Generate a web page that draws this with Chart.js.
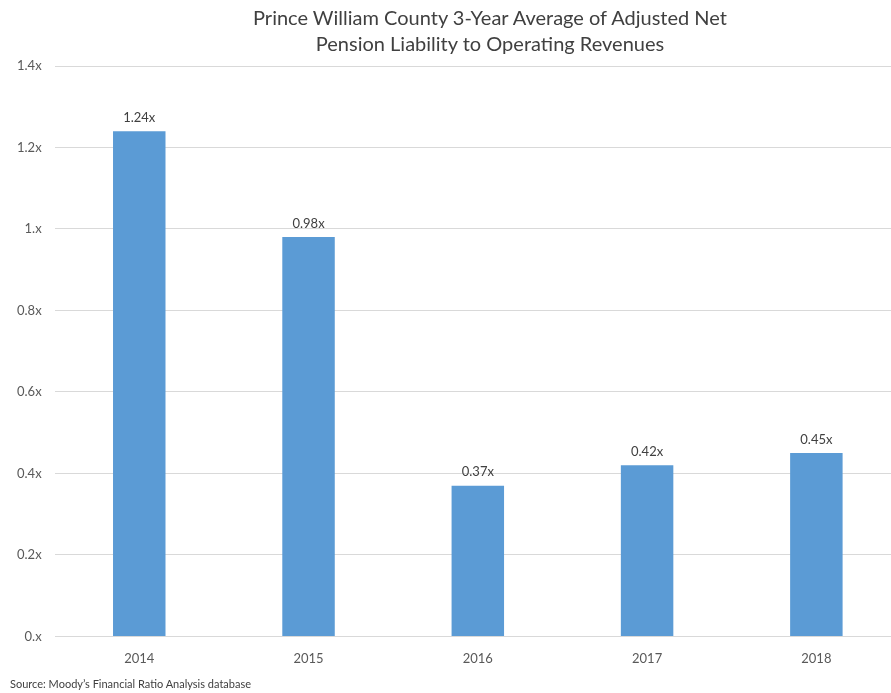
<!DOCTYPE html>
<html>
<head>
<meta charset="utf-8">
<script src="https://cdn.jsdelivr.net/npm/chart.js@4/dist/chart.umd.min.js"></script>
<style>
    html, body { margin: 0; padding: 0; background: #fff; overflow: hidden; }
    #wrap { position: relative; width: 891px; height: 693px; overflow: hidden; }
    #chart { position: absolute; left: 0; top: 0; }
    #title { position: absolute; left: 0; top: 4px; width: 980px; text-align: center;
             font: 20px/26px Lato, sans-serif; color: #404040; }
    #source { position: absolute; left: 10px; top: 677px; font: 11px Lato, sans-serif; color: #404040; }
</style>
</head>
<body>
<div id="wrap">
    <canvas id="chart" width="980" height="693"></canvas>
    <div id="title"></div>
    <div id="source">Source: Moody’s Financial Ratio Analysis database</div>
</div>
<script>
// Chart data
const years = ['2014', '2015', '2016', '2017', '2018'];
const ratios = [1.24, 0.98, 0.37, 0.42, 0.45];
const titleLines = ['Prince William County 3-Year Average of Adjusted Net', 'Pension Liability to Operating Revenues'];

document.getElementById('title').innerHTML = titleLines.join('<br>');

// Excel style "0.#x" format
function tickFormat(value) {
    let s = (Math.round(value * 10) / 10).toString();
    if (s.indexOf('.') < 0) s += '.';
    return s + 'x';
}

// Draw value labels above each bar
const barLabels = {
    id: 'barLabels',
    afterDatasetsDraw(chart) {
        const ctx = chart.ctx;
        const meta = chart.getDatasetMeta(0);
        ctx.save();
        ctx.font = '13px Lato, sans-serif';
        ctx.fillStyle = '#404040';
        ctx.textAlign = 'center';
        ctx.textBaseline = 'bottom';
        meta.data.forEach(function(bar, i) {
            ctx.fillText(ratios[i].toFixed(2) + 'x', bar.x, bar.y - 7);
        });
        ctx.restore();
    }
};

const ctx = document.getElementById('chart').getContext('2d');
new Chart(ctx, {
    type: 'bar',
    data: {
        labels: years,
        datasets: [{
            data: ratios,
            backgroundColor: '#5b9bd5',
            categoryPercentage: 1,
            barPercentage: 0.31
        }]
    },
    options: {
        responsive: false,
        animation: false,
        layout: {
            padding: { left: 4, right: 79, top: 66, bottom: 19 }
        },
        plugins: {
            legend: { display: false },
            tooltip: { enabled: false },
            title: { display: false }
        },
        scales: {
            x: {
                grid: { display: false },
                border: { display: false },
                ticks: { color: '#595959', font: { family: 'Lato, sans-serif', size: 13 }, padding: 7 }
            },
            y: {
                min: 0,
                max: 1.4,
                grid: { color: '#d9d9d9', drawTicks: false },
                border: { display: false },
                ticks: {
                    stepSize: 0.2,
                    color: '#595959',
                    font: { family: 'Lato, sans-serif', size: 13 },
                    padding: 13,
                    callback: tickFormat
                }
            }
        }
    },
    plugins: [barLabels]
});
</script>
</body>
</html>
